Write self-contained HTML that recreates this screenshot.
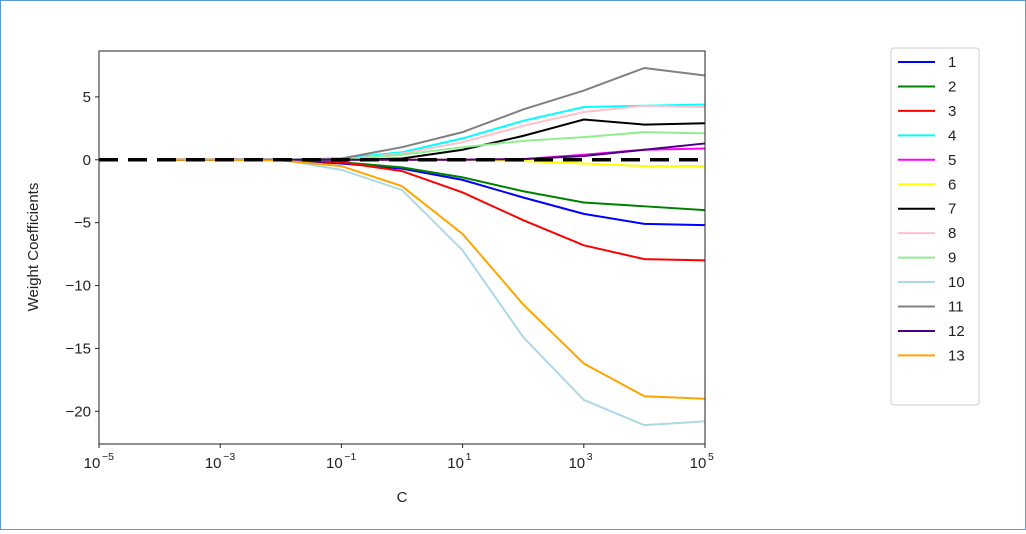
<!DOCTYPE html>
<html><head><meta charset="utf-8"><style>
body{margin:0;background:#fff;}
#wrap{position:relative;width:1024px;height:528px;border:1px solid #5b9bd5;background:#fff;}
svg text{font-family:"Liberation Sans",sans-serif;fill:#222;}
</style></head><body>
<div id="wrap">
<svg id="chart" width="1024" height="528"></svg>
</div>
<script>
const decades=[-4,-3,-2,-1,0,1,2,3,4,5];
const names=["1","2","3","4","5","6","7","8","9","10","11","12","13"];
const colors=["blue","green","red","cyan","magenta","yellow","black","pink","lightgreen","lightblue","gray","indigo","orange"];
const s1=[0,0,0,-0.3,-0.7,-1.6,-3.0,-4.3,-5.1,-5.2];
const s2=[0,0,0,-0.2,-0.6,-1.4,-2.5,-3.4,-3.7,-4.0];
const s3=[0,0,0,-0.2,-0.9,-2.6,-4.8,-6.8,-7.9,-8.0];
const s4=[0,0,0,0.1,0.6,1.7,3.1,4.2,4.3,4.4];
const s5=[0,0,0,0,0,0,0.05,0.4,0.8,0.9];
const s6=[0,0,0,0,0,0,-0.1,-0.3,-0.5,-0.5];
const s7=[0,0,0,0,0.1,0.8,1.9,3.2,2.8,2.9];
const s8=[0,0,0,0,0.5,1.4,2.7,3.8,4.3,4.2];
const s9=[0,0,0,0,0.4,1.0,1.5,1.8,2.2,2.1];
const s10=[0,0,0,-0.8,-2.4,-7.2,-14.1,-19.1,-21.1,-20.8];
const s11=[0,0,0,0.1,1.0,2.2,4.0,5.5,7.3,6.7];
const s12=[0,0,0,0,0,0,0.05,0.3,0.8,1.3];
const s13=[0,0,-0.05,-0.5,-2.1,-5.9,-11.5,-16.2,-18.8,-19.0];
const series=[s1,s2,s3,s4,s5,s6,s7,s8,s9,s10,s11,s12,s13];
const yTicks=[5,0,-5,-10,-15,-20];
const xTicks=[-5,-3,-1,1,3,5];

const NS="http://www.w3.org/2000/svg";
const svg=document.getElementById('chart');
const L=98,R=704,T=50,B=443,ymin=-22.6,ymax=8.65;
const X=d=>L+(d+5)/10*(R-L);
const Y=v=>T+(ymax-v)/(ymax-ymin)*(B-T);
function mk(tag,attrs,parent){const e=document.createElementNS(NS,tag);for(const k in attrs)e.setAttribute(k,attrs[k]);(parent||svg).appendChild(e);return e;}

const plot=mk('g',{});


series.forEach((s,i)=>{
  const p=mk('polyline',{points:s.map((v,j)=>X(decades[j])+','+Y(v)).join(' '),fill:'none',stroke:colors[i],'stroke-width':2},plot);
  
  
});
const zl=mk('line',{x1:L,x2:R,y1:Y(0),y2:Y(0),stroke:'#000','stroke-width':3.5,'stroke-dasharray':'19,10'});


const fr=mk('rect',{x:L,y:T,width:R-L,height:B-T,fill:'none',stroke:'#222','stroke-width':1});



yTicks.forEach(v=>{
  mk('line',{x1:L-4,x2:L,y1:Y(v),y2:Y(v),stroke:'#222'});
  const t=mk('text',{x:L-8,y:Y(v)+5,'text-anchor':'end','font-size':15});
  t.textContent=v<0?'\u2212'+(-v):String(v);
  
  
});
xTicks.forEach(d=>{
  mk('line',{x1:X(d),x2:X(d),y1:B,y2:B+4,stroke:'#222'});
  const t=mk('text',{x:X(d)-7,y:B+24,'text-anchor':'middle','font-size':15});
  t.textContent='10';
  
  
  const sp=mk('text',{x:X(d)+3,y:B+16,'font-size':10.5});
  sp.textContent=d<0?'\u2212'+(-d):String(d);
  
  
});
const xt=mk('text',{x:401,y:501,'text-anchor':'middle','font-size':15});
xt.textContent='C';


const yt=mk('text',{x:0,y:0,'text-anchor':'middle','font-size':15,transform:'translate(37,246) rotate(-90)'});
yt.textContent='Weight Coefficients';



const lg=mk('g',{});


mk('rect',{x:890,y:47,width:88,height:357,rx:3,fill:'#fff',stroke:'#ccc'},lg);
names.forEach((n,i)=>{
  const y=61+i*24.45;
  const e=mk('g',{},lg);
  
  
  mk('line',{x1:897,x2:934,y1:y,y2:y,stroke:colors[i],'stroke-width':2},e);
  const t=mk('text',{x:947,y:y+5,'font-size':15},e);
  t.textContent=n;
});
</script>
</body></html>
